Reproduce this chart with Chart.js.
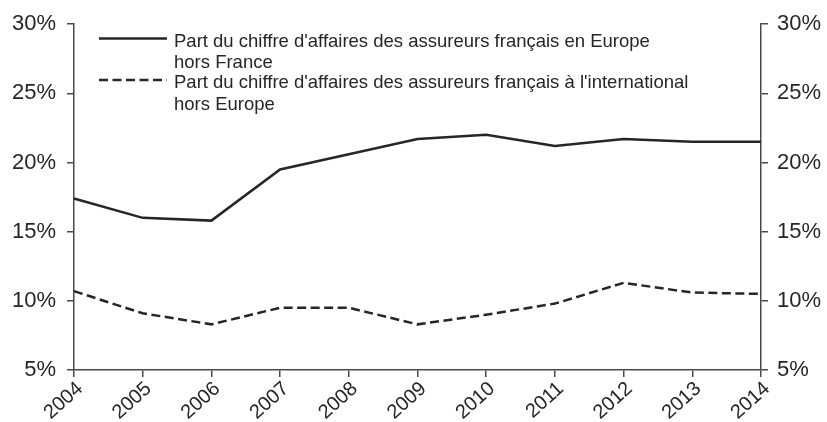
<!DOCTYPE html>
<html>
<head>
<meta charset="utf-8">
<script src="https://cdn.jsdelivr.net/npm/chart.js@4.4.1/dist/chart.umd.min.js"></script>
<style>
  html, body { margin: 0; padding: 0; background: #fff; }
  #wrap { width: 827px; height: 422px; }
</style>
</head>
<body>
<div id="wrap"><canvas id="chartParts"></canvas></div>
<script>
/* parts du chiffre d'affaires hors France */

const years = ["2004", "2005", "2006", "2007", "2008", "2009", "2010", "2011", "2012", "2013", "2014"];
const europeHorsFrance = [17.4, 16.0, 15.8, 19.5, 20.6, 21.7, 22.0, 21.2, 21.7, 21.5, 21.5];
const internationalHorsEurope = [10.7, 9.1, 8.3, 9.5, 9.5, 8.3, 9.0, 9.8, 11.3, 10.6, 10.5];
const legendLines = [
  ["Part du chiffre d'affaires des assureurs français en Europe", "hors France"],
  ["Part du chiffre d'affaires des assureurs français à l'international", "hors Europe"],
];
const yTicks = [5, 10, 15, 20, 25, 30];

const ink = "#262626";
const axisColor = "#4a4a4a";
const fontFamily = "'Liberation Sans', Arial, sans-serif";

// legend drawn by hand: two-line labels
const legendPlugin = {
  id: "twoLineLegend",
  afterDraw(chart) {
    const ctx = chart.ctx;
    ctx.save();
    ctx.font = "18.5px " + fontFamily;
    ctx.fillStyle = ink;
    ctx.textBaseline = "alphabetic";
    const rows = [38.5, 80];
    chart.data.datasets.forEach((ds, i) => {
      const y = rows[i];
      ctx.beginPath();
      ctx.strokeStyle = ink;
      ctx.lineWidth = 2.5;
      ctx.setLineDash(ds.borderDash || []);
      ctx.moveTo(99, y);
      ctx.lineTo(167, y);
      ctx.stroke();
      ctx.setLineDash([]);
      legendLines[i].forEach((t, k) => {
        ctx.fillText(t, 174, y + 8 + k * 21.5);
      });
    });
    ctx.restore();
  },
};

const tickFont = { family: fontFamily, size: 22 };

new Chart(document.getElementById("chartParts"), {
  type: "line",
  data: {
    labels: years,
    datasets: [
      {
        label: legendLines[0].join(" "),
        data: europeHorsFrance,
        borderColor: ink,
        borderWidth: 2.5,
        pointRadius: 0,
        tension: 0,
        fill: false,
      },
      {
        label: legendLines[1].join(" "),
        data: internationalHorsEurope,
        borderColor: ink,
        borderWidth: 2.5,
        borderDash: [9, 4.5],
        pointRadius: 0,
        tension: 0,
        fill: false,
      },
    ],
  },
  options: {
    responsive: true,
    maintainAspectRatio: false,
    animation: false,
    devicePixelRatio: 1,
    layout: { padding: { top: 24, left: 0, right: 0, bottom: 0 } },
    scales: {
      x: {
        offset: false,
        grid: { drawOnChartArea: false, color: axisColor, tickLength: 7, lineWidth: 1.5 },
        border: { color: axisColor, width: 1.5 },
        ticks: {
          color: ink,
          font: { family: fontFamily, size: 20 },
          minRotation: 42,
          maxRotation: 42,
          padding: 0,
          labelOffset: 6, // labels sit a bit right of the tick
          autoSkip: false,
        },
        afterFit: (s) => { s.height = 52; },
      },
      y: {
        position: "left",
        min: 5,
        max: 30,
        afterBuildTicks: (s) => { s.ticks = yTicks.map((v) => ({ value: v })); },
        grid: { drawOnChartArea: false, color: axisColor, tickLength: 7, lineWidth: 1.5 },
        border: { color: axisColor, width: 1.5 },
        ticks: { color: ink, font: tickFont, padding: 11, callback: (v) => v + "%" },
        afterFit: (s) => { s.width = 74; },
      },
      y2: {
        position: "right",
        min: 5,
        max: 30,
        afterBuildTicks: (s) => { s.ticks = yTicks.map((v) => ({ value: v })); },
        grid: { drawOnChartArea: false, color: axisColor, tickLength: 7, lineWidth: 1.5 },
        border: { color: axisColor, width: 1.5 },
        ticks: { color: ink, font: tickFont, padding: 9, callback: (v) => v + "%" },
        afterFit: (s) => { s.width = 66; },
      },
    },
    plugins: {
      legend: { display: false },
      tooltip: { enabled: false },
    },
  },
  plugins: [legendPlugin],
});
</script>
</body>
</html>
